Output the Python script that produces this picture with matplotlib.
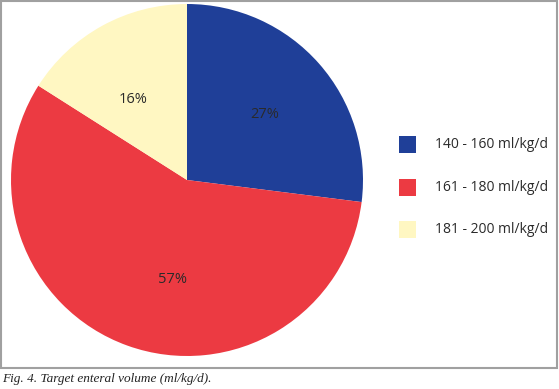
import matplotlib
matplotlib.use("Agg")
import matplotlib.pyplot as plt
from matplotlib.patches import Rectangle

labels = ["140 - 160 ml/kg/d", "161 - 180 ml/kg/d", "181 - 200 ml/kg/d"]
values = [27, 57, 16]
colors = ["#1f3f98", "#ec3a42", "#fff7c2"]
caption = "Fig. 4. Target enteral volume (ml/kg/d)."

W, H = 559, 389
fig = plt.figure(figsize=(W / 100, H / 100), dpi=100)
plt.rcParams['font.family'] = ['Open Sans', 'DejaVu Sans']

# frame around chart area
frame = fig.add_axes([0, 0, 1, 1])
frame.set_xlim(0, W)
frame.set_ylim(H, 0)
frame.axis("off")
frame.add_patch(Rectangle((0.5, 0.5), 556.5, 367.5, fill=False, edgecolor="#a0a0a0", lw=1.5))

cx, cy, r = 187, 180, 176
ax = fig.add_axes([(cx - r) / W, (H - cy - r) / H, 2 * r / W, 2 * r / H])
wedges, texts, autotexts = ax.pie(values, colors=colors, startangle=90, counterclock=False,
                                  autopct='%d%%', pctdistance=0.6,
                                  textprops=dict(fontsize=10.5, color="#2a2a2a"))
# label placement as in the reference
label_pos = [(0.443, 0.37), (-0.08, -0.568), (-0.307, 0.46)]
for t, p in zip(autotexts, label_pos):
    t.set_position(p)
ax.set_xlim(-1, 1)
ax.set_ylim(-1, 1)
ax.set_aspect("equal")
ax.axis("off")

# legend
sq = 17
ys = [144, 187, 229]
for lab, col, y in zip(labels, colors, ys):
    frame.add_patch(Rectangle((399, y - sq / 2), sq, sq, facecolor=col, edgecolor="none"))
    frame.text(435, y, lab, fontsize=10, va="center", ha="left", color="#2a2a2a")

frame.text(2, 379, caption, fontsize=9.5, fontstyle="italic", family="Liberation Serif",
           va="center", ha="left", color="#222222")

fig.savefig("out.png", dpi=100)
